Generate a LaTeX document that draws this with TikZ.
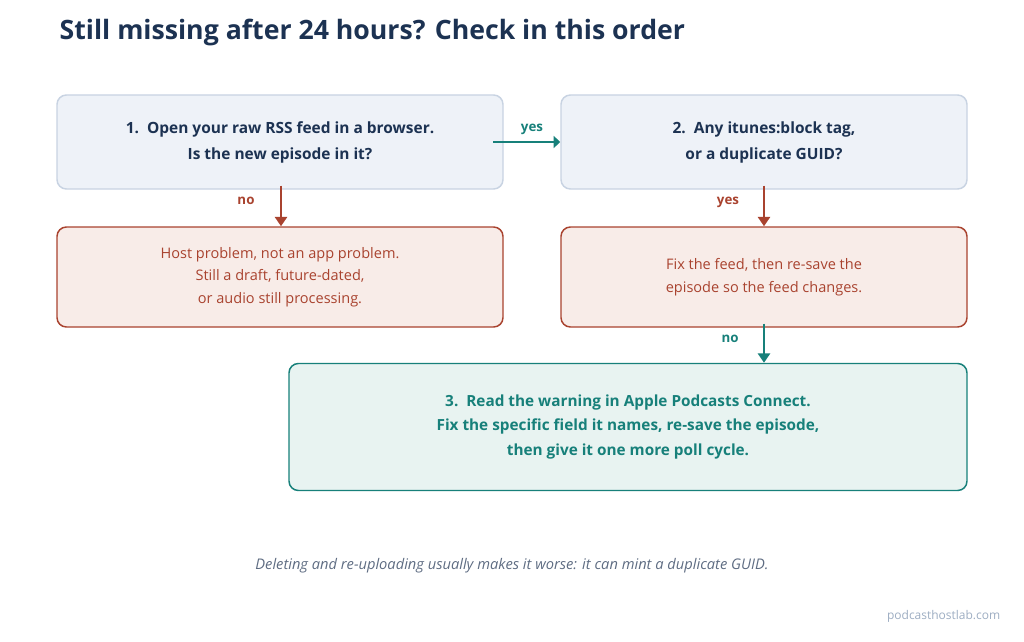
\documentclass[tikz,border=0pt]{standalone}
\usepackage{fontspec}
\setmainfont{Open Sans}
\usetikzlibrary{arrows.meta}
\usepackage{xcolor}
\definecolor{navy}{HTML}{1C3252}
\definecolor{qfill}{HTML}{EEF2F8}
\definecolor{qdraw}{HTML}{C8D3E2}
\definecolor{rust}{HTML}{A9432F}
\definecolor{rfill}{HTML}{F8ECE8}
\definecolor{teal}{HTML}{17807A}
\definecolor{tfill}{HTML}{E8F3F1}
\definecolor{note}{HTML}{5E6C82}
\definecolor{site}{HTML}{9DADC2}

\begin{document}
\begin{tikzpicture}[x=0.75pt, y=-0.75pt, >={Triangle[length=7pt, width=9pt]},
  box/.style={rounded corners=7pt, line width=1.1pt, align=center, inner sep=0pt},
  ask/.style={box, fill=qfill, draw=qdraw, text=navy, font=\fontsize{11.6}{19.5}\selectfont\bfseries},
  host/.style={box, fill=rfill, draw=rust, text=rust, font=\fontsize{10.9}{16.8}\selectfont},
  last/.style={box, fill=tfill, draw=teal, text=teal, font=\fontsize{11.5}{18.5}\selectfont\bfseries},
  lab/.style={font=\fontsize{10}{11}\selectfont\bfseries},
  edge/.style={->, line width=1.9pt}
]
\useasboundingbox (0,0) rectangle (1024,642);
\node[anchor=west, text=navy, font=\fontsize{20}{22}\selectfont\bfseries] (title) at (55,33) {Still missing after 24 hours? Check in this order};

\node[ask, minimum width=446*0.75pt, minimum height=94*0.75pt] (q1) at (280,142) {1.\ \ Open your raw RSS feed in a browser.\\Is the new episode in it?};
\node[ask, minimum width=406*0.75pt, minimum height=94*0.75pt] (q2) at (764,142) {2.\ \ Any itunes:block tag,\\or a duplicate GUID?};
\node[host, minimum width=446*0.75pt, minimum height=100*0.75pt] (r1) at (280,277) {Host problem, not an app problem.\\Still a draft, future-dated,\\or audio still processing.};
\node[host, minimum width=406*0.75pt, minimum height=100*0.75pt] (r2) at (764,277) {Fix the feed, then re-save the\\episode so the feed changes.};
\node[last, minimum width=678*0.75pt, minimum height=127*0.75pt] (q3) at (628,427) {3.\ \ Read the warning in Apple Podcasts Connect.\\Fix the specific field it names, re-save the episode,\\then give it one more poll cycle.};

\coordinate (y0) at (493,142);
\draw[edge, draw=teal, {-Triangle[length=5pt, width=9pt]}] (y0) -- (q2.west);
\node[lab, text=teal] (yes1) at (532,129) {yes};
\draw[edge, draw=rust] (q1.south -| r1.north) ++(1,-4) coordinate (n0) (n0) -- (r1.north -| n0);
\node[lab, text=rust] (no1) at (246,201) {no};
\draw[edge, draw=rust] (q2.south) ++(0,-4) coordinate (n1) (n1) -- (r2.north);
\node[lab, text=rust] (yes2) at (728,202) {yes};
\draw[edge, draw=teal] (r2.south) ++(0,-4) coordinate (n2) (n2) -- (q3.north -| n2);
\node[lab, text=teal] (no2) at (730,339) {no};

\node[text=note, font=\fontsize{11}{13}\selectfont\itshape] (warn) at (512,566) {Deleting and re-uploading usually makes it worse: it can mint a duplicate GUID.};
\node[anchor=east, text=site, font=\fontsize{9}{11}\selectfont] (site) at (1005,616) {podcasthostlab.com};
\end{tikzpicture}
\end{document}
